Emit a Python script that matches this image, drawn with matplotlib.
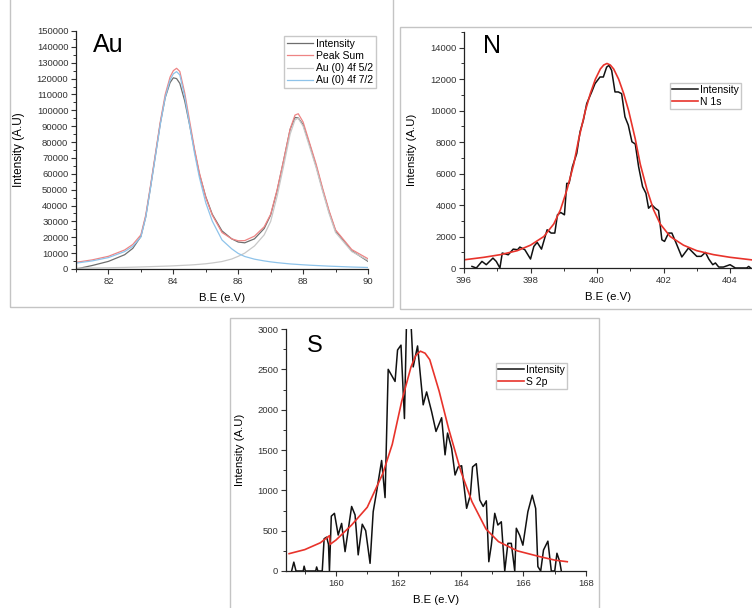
import matplotlib
matplotlib.use("Agg")
import matplotlib.pyplot as plt
from matplotlib.patches import Rectangle
from matplotlib.ticker import MultipleLocator

plt.rcParams['font.family'] = ['Liberation Sans', 'DejaVu Sans']

# ---- Au 4f ----
au_be = [81.0, 81.5, 82.0, 82.5, 82.75, 83.0, 83.15, 83.3, 83.45, 83.6, 83.75, 83.9,
         84.0, 84.1, 84.2, 84.35, 84.5, 84.65, 84.8, 85.0, 85.2, 85.5, 85.8, 86.0,
         86.2, 86.5, 86.8, 87.0, 87.2, 87.4, 87.6, 87.75, 87.85, 88.0, 88.2, 88.4,
         88.6, 88.8, 89.0, 89.5, 90.0]
au_intensity = [0, 2200, 4800, 9000, 13000, 20500, 33000, 52000, 72000, 92000, 108000, 117500,
                120500, 120000, 117000, 106000, 91000, 75000, 60000, 45500, 34500, 24000, 19000, 17000,
                16500, 19000, 25500, 34000, 49500, 68500, 88000, 95500, 95200, 91000, 78500, 65000,
                50000, 36000, 24000, 11500, 4800]
au_peak_sum = [4200, 5750, 8000, 12000, 15450, 21500, 34000, 53000, 73000, 93000, 110000, 121000,
               125000, 126500, 124500, 111050, 93500, 76000, 60950, 45000, 34000, 23000, 19000, 17800,
               17900, 20700, 26600, 34500, 50000, 68600, 88200, 97000, 97850, 92650, 79400, 66200,
               51000, 36800, 24650, 12250, 6450]
au_4f52 = [500, 650, 800, 1000, 1150, 1300, 1400, 1500, 1600, 1700, 1800, 1900,
           2000, 2100, 2200, 2350, 2500, 2700, 2950, 3300, 3800, 4700, 6300, 8000,
           10000, 14500, 21500, 30000, 46000, 65000, 85000, 94000, 95000, 90000, 77000, 64000,
           49000, 35000, 23000, 11000, 5500]
au_4f72 = [3700, 5100, 7200, 11000, 14300, 20200, 32600, 51500, 71400, 91300, 108200, 119100,
           123000, 124400, 122300, 108700, 91000, 73300, 58000, 41700, 30200, 18300, 12700, 9800,
           7900, 6200, 5100, 4500, 4000, 3600, 3200, 3000, 2850, 2650, 2400, 2200,
           2000, 1800, 1650, 1250, 950]

# ---- N 1s ----
n_be = [396.24, 396.37, 396.54, 396.67, 396.87, 396.97, 397.08, 397.15, 397.33, 397.48,
        397.61, 397.68, 397.83, 398.0, 398.1, 398.2, 398.33, 398.5, 398.62, 398.73,
        398.81, 398.91, 399.02, 399.09, 399.16, 399.26, 399.39, 399.49, 399.59, 399.69,
        399.84, 399.94, 400.09, 400.19, 400.29, 400.36, 400.44, 400.54, 400.64, 400.74,
        400.84, 400.94, 401.05, 401.15, 401.25, 401.37, 401.47, 401.55, 401.65, 401.75,
        401.85, 401.95, 402.03, 402.15, 402.25, 402.37, 402.55, 402.75, 402.9, 403.0,
        403.13, 403.26, 403.36, 403.48, 403.56, 403.66, 403.8, 404.0, 404.16, 404.36,
        404.5, 404.56, 404.62]
n_intensity = [100, 0, 420, 210, 630, 420, 0, 950, 840, 1200,
               1160, 1330, 1160, 570, 1370, 1630, 1200, 2430, 2220, 2220,
               3380, 3530, 3380, 5380, 5380, 6440, 7280, 8660, 9400, 10450,
               11190, 11720, 12140, 12140, 12770, 12880, 12560, 11190, 11190, 11080,
               9610, 9080, 8020, 7880, 6440, 5170, 4750, 3800, 4010, 3800,
               3650, 1790, 1690, 2220, 2220, 1630, 700, 1270, 950, 740,
               740, 990, 570, 210, 320, 60, 60, 210, 0, 0,
               0, 100, 0]
n_fit_be = [396.0, 396.6, 397.1, 397.6, 398.0, 398.4, 398.7, 398.9, 399.1, 399.3, 399.45,
            399.65, 399.8, 399.95, 400.1, 400.2, 400.3, 400.4, 400.5, 400.65, 400.8, 400.95,
            401.15, 401.3, 401.5, 401.7, 401.9, 402.2, 402.6, 403.0, 403.5, 404.0, 404.66]
n_fit = [520, 680, 850, 1100, 1450, 2000, 2800, 3700, 5000, 6600, 8200,
         10000, 11100, 12000, 12650, 12900, 13000, 12900, 12650, 12000, 11100, 10000,
         8200, 6600, 5000, 3700, 2800, 2000, 1450, 1100, 850, 680, 515]

# ---- S 2p ----
s_be = [158.58, 158.65, 158.72, 158.95, 158.98, 159.02, 159.35, 159.38, 159.42, 159.56,
        159.62, 159.70, 159.76, 159.79, 159.85, 159.95, 160.07, 160.18, 160.29, 160.50,
        160.61, 160.71, 160.84, 160.95, 161.09, 161.19, 161.30, 161.46, 161.57, 161.67,
        161.89, 161.97, 162.08, 162.19, 162.26, 162.39, 162.47, 162.61, 162.79, 162.90,
        163.06, 163.20, 163.38, 163.49, 163.57, 163.70, 163.81, 163.91, 164.02, 164.18,
        164.30, 164.37, 164.49, 164.60, 164.71, 164.81, 164.89, 164.97, 165.08, 165.18,
        165.29, 165.40, 165.50, 165.61, 165.72, 165.77, 165.88, 165.98, 166.14, 166.28,
        166.39, 166.46, 166.55, 166.64, 166.78, 166.89, 167.00, 167.07, 167.16, 167.21]
s_intensity = [0, 110, 0, 0, 60, 0, 0, 50, 0, 0,
               400, 420, 330, 0, 680, 715, 446, 590, 240, 800,
               695, 200, 580, 500, 95, 735, 985, 1370, 910, 2500,
               2350, 2740, 2800, 1890, 3150, 3150, 2530, 2790, 2060, 2220,
               1975, 1730, 1900, 1440, 1710, 1520, 1190, 1290, 1305, 777,
               942, 1290, 1330, 880, 800, 870, 115, 320, 715, 570,
               610, 0, 343, 343, 0, 530, 440, 320, 735, 940,
               775, 55, 0, 260, 370, 0, 0, 220, 115, 0]
s_fit_be = [158.5, 159.0, 159.5, 159.79, 159.81, 160.0, 160.5, 161.0, 161.5, 161.8,
            162.1, 162.4, 162.55, 162.7, 162.85, 163.0, 163.3, 163.6, 164.0, 164.35,
            164.8, 165.2, 165.8, 166.5, 167.0, 167.4]
s_fit = [215, 265, 350, 438, 330, 384, 570, 790, 1210, 1570,
         2100, 2530, 2670, 2725, 2700, 2620, 2230, 1770, 1230, 860,
         520, 364, 250, 180, 135, 115]

W, H = 752, 608


def box(l, t, r, b):
    return [l / W, 1 - b / H, (r - l) / W, (b - t) / H]


def style(ax, xmaj, xmin, ymaj, ymin):
    for s in ['top', 'right']:
        ax.spines[s].set_visible(False)
    for s in ['left', 'bottom']:
        ax.spines[s].set_color('#222222')
        ax.spines[s].set_linewidth(0.9)
    ax.xaxis.set_major_locator(MultipleLocator(xmaj))
    ax.xaxis.set_minor_locator(MultipleLocator(xmin))
    ax.yaxis.set_major_locator(MultipleLocator(ymaj))
    ax.yaxis.set_minor_locator(MultipleLocator(ymin))
    ax.tick_params(which='major', direction='out', length=3.5, width=0.8,
                   labelsize=6.8, colors='#333333', pad=2)
    ax.tick_params(which='minor', direction='out', length=2, width=0.7, colors='#333333')
    ax.patch.set_alpha(0)


fig = plt.figure(figsize=(W / 100, H / 100), dpi=100)

# panel frames
for l, t, r, b in [(10, -10, 393, 307), (400, 27, 770, 309), (230, 318, 599, 620)]:
    fig.patches.append(Rectangle((l / W, 1 - b / H), (r - l) / W, (b - t) / H,
                                 transform=fig.transFigure, fill=False,
                                 edgecolor='#c4c4c4', linewidth=1.0))

# Au panel
ax1 = fig.add_axes(box(76, 31, 368, 269))
ax1.plot(au_be, au_intensity, color='#6e6e6e', lw=0.9, label='Intensity')
ax1.plot(au_be, au_peak_sum, color='#ee8484', lw=0.9, label='Peak Sum')
ax1.plot(au_be, au_4f52, color='#c8c8c8', lw=0.9, label='Au (0) 4f 5/2')
ax1.plot(au_be, au_4f72, color='#8ec3ea', lw=0.9, label='Au (0) 4f 7/2')
ax1.set_xlim(81, 90)
ax1.set_ylim(0, 150000)
style(ax1, 2, 1, 10000, 5000)
ax1.set_xlabel('B.E (e.V)', fontsize=8.2, va='center')
ax1.set_ylabel('Intensity (A.U)', fontsize=8.5, va='center')
ax1.xaxis.set_label_coords(0.5, -0.122)
ax1.yaxis.set_label_coords(-0.195, 0.5)
ax1.text(0.058, 0.912, 'Au', transform=ax1.transAxes, fontsize=18, va='baseline')
ax1.legend(loc='upper right', bbox_to_anchor=(1.026, 0.979), borderaxespad=0,
           fontsize=7.5, frameon=True, fancybox=False, edgecolor='#bbbbbb',
           handlelength=2.5, handletextpad=0.3, labelspacing=0.22, borderpad=0.25)

# N panel
ax2 = fig.add_axes(box(464, 32, 752, 268))
ax2.plot(n_be, n_intensity, color='#111111', lw=1.1, label='Intensity')
ax2.plot(n_fit_be, n_fit, color='#e8332b', lw=1.2, label='N 1s')
ax2.set_xlim(396, 404.66)
ax2.set_ylim(0, 15000)
style(ax2, 2, 1, 2000, 1000)
ax2.set_xlabel('B.E (e.V)', fontsize=8.2, va='center')
ax2.set_ylabel('Intensity (A.U)', fontsize=8.2, va='center')
ax2.xaxis.set_label_coords(0.5, -0.123)
ax2.yaxis.set_label_coords(-0.18, 0.5)
ax2.text(0.066, 0.911, 'N', transform=ax2.transAxes, fontsize=18, va='baseline')
ax2.legend(loc='upper right', bbox_to_anchor=(0.962, 0.784), borderaxespad=0,
           fontsize=7.5, frameon=True, fancybox=False, edgecolor='#bbbbbb',
           handlelength=2.5, handletextpad=0.2, labelspacing=0.15, borderpad=0.2)

# S panel
ax3 = fig.add_axes(box(286, 329, 586, 571))
ax3.plot(s_be, s_intensity, color='#111111', lw=1.1, label='Intensity')
ax3.plot(s_fit_be, s_fit, color='#e8332b', lw=1.2, label='S 2p')
ax3.set_xlim(158.4, 168)
ax3.set_ylim(0, 3000)
style(ax3, 2, 1, 500, 250)
ax3.set_xlabel('B.E (e.V)', fontsize=8.2, va='center')
ax3.set_ylabel('Intensity (A.U)', fontsize=8.2, va='center')
ax3.xaxis.set_label_coords(0.5, -0.12)
ax3.yaxis.set_label_coords(-0.153, 0.5)
ax3.text(0.07, 0.905, 'S', transform=ax3.transAxes, fontsize=17, va='baseline')
ax3.legend(loc='upper right', bbox_to_anchor=(0.937, 0.86), borderaxespad=0,
           fontsize=7.5, frameon=True, fancybox=False, edgecolor='#bbbbbb',
           handlelength=2.5, handletextpad=0.2, labelspacing=0.15, borderpad=0.2)

fig.savefig('out.png', dpi=100)
